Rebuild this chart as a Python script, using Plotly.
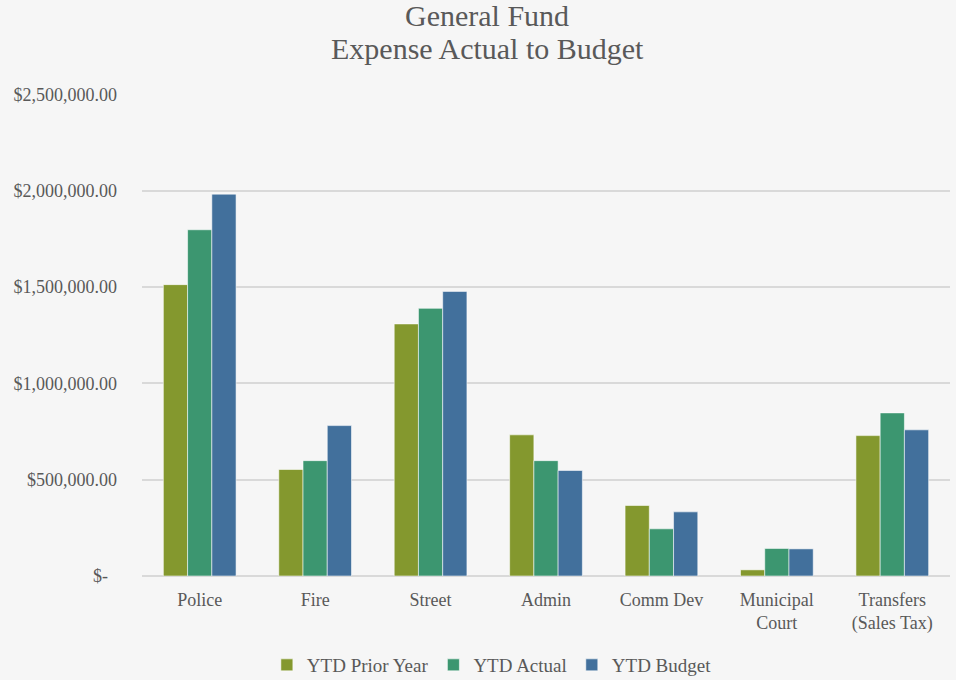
import plotly.graph_objects as go

# Department categories (line breaks keep the longer names on two rows)
categories = ["Police", "Fire", "Street", "Admin", "Comm Dev",
              "Municipal<br>Court", "Transfers<br>(Sales Tax)"]

# Year-to-date expense figures in dollars
ytd_prior_year = [1513000, 553000, 1309000, 733000, 366000, 32000, 729000]
ytd_actual = [1798000, 599000, 1390000, 599000, 245000, 143000, 847000]
ytd_budget = [1983000, 781000, 1478000, 548000, 333000, 141000, 759000]

# Axis tick labels in accounting style
tick_values = [0, 500000, 1000000, 1500000, 2000000, 2500000]
tick_labels = ["$-\u00a0\u00a0", "$500,000.00", "$1,000,000.00",
               "$1,500,000.00", "$2,000,000.00", "$2,500,000.00"]

# Two-line chart heading
title_lines = ["General Fund", "Expense Actual to Budget"]

series = [
    ("YTD Prior Year", ytd_prior_year, "#84982E"),
    ("YTD Actual", ytd_actual, "#3C9670"),
    ("YTD Budget", ytd_budget, "#42709C"),
]

FONT = "Liberation Serif, Times New Roman, serif"
TEXT = "#595959"

fig = go.Figure()
for name, values, color in series:
    fig.add_trace(go.Bar(
        name=name, x=categories, y=values,
        marker=dict(color=color, line=dict(color="rgba(255,255,255,0.55)", width=1)),
    ))

# Heading lines placed individually for tighter line spacing
for text, y_px in zip(title_lines, [16, 49]):
    fig.add_annotation(
        text=text, xref="paper", yref="paper",
        x=(487 - 142) / 808, y=1 + (94 - y_px) / 482,
        xanchor="center", yanchor="middle", showarrow=False,
        font=dict(family=FONT, size=30, color=TEXT),
    )

fig.update_layout(
    width=956, height=680,
    barmode="group", bargap=0.37, bargroupgap=0,
    paper_bgcolor="#F6F6F6", plot_bgcolor="#F6F6F6",
    margin=dict(l=142, r=6, t=94, b=104),
    font=dict(family=FONT, color=TEXT, size=18),
    legend=dict(
        orientation="h", x=0.433, xanchor="center",
        yref="container", y=15 / 680, yanchor="middle",
        font=dict(family=FONT, size=19, color=TEXT),
        itemwidth=30, tracegroupgap=0,
    ),
    showlegend=True,
)

fig.update_yaxes(
    range=[0, 2503000], tickvals=tick_values, ticktext=tick_labels,
    showgrid=True, gridcolor="#D9D9D9", gridwidth=1.5,
    zeroline=True, zerolinecolor="#D9D9D9", zerolinewidth=1.5,
    ticklabelstandoff=24, tickfont=dict(size=18, color=TEXT),
    automargin=False, fixedrange=True,
)
fig.update_xaxes(
    showgrid=False, showline=False, ticks="",
    tickfont=dict(size=18, color=TEXT), ticklabelstandoff=11,
    automargin=False, fixedrange=True,
)

fig.write_html("out.html")
